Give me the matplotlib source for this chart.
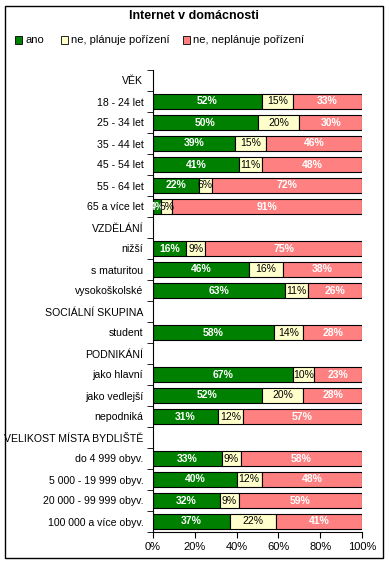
import matplotlib.pyplot as plt
from matplotlib.patches import Rectangle

categories = ["VĚK", "18 - 24 let", "25 - 34 let", "35 - 44 let", "45 - 54 let",
              "55 - 64 let", "65 a více let", "VZDĚLÁNÍ", "nižší", "s maturitou",
              "vysokoškolské", "SOCIÁLNÍ SKUPINA", "student", "PODNIKÁNÍ",
              "jako hlavní", "jako vedlejší", "nepodniká", "VELIKOST MÍSTA BYDLIŠTĚ",
              "do 4 999 obyv.", "5 000 - 19 999 obyv.", "20 000 - 99 999 obyv.",
              "100 000 a více obyv."]
# None = section header row (no bar)
ano = [None, 52, 50, 39, 41, 22, 4, None, 16, 46, 63, None, 58, None, 67, 52, 31, None, 33, 40, 32, 37]
planuje = [None, 15, 20, 15, 11, 6, 5, None, 9, 16, 11, None, 14, None, 10, 20, 12, None, 9, 12, 9, 22]
neplanuje = [None, 33, 30, 46, 48, 72, 91, None, 75, 38, 26, None, 28, None, 23, 28, 57, None, 58, 48, 59, 41]

series_names = ["ano", "ne, plánuje pořízení", "ne, neplánuje pořízení"]
colors = ["#008000", "#FFFFCC", "#FF8080"]
text_colors = ["white", "black", "white"]
weights = ["bold", "normal", "bold"]

plt.rcParams['font.family'] = ['Liberation Sans', 'DejaVu Sans']

fig = plt.figure(figsize=(3.89, 5.64), dpi=100)
ax = fig.add_axes([153 / 389, 32 / 564, 209 / 389, 462 / 564])

n = len(categories)
ys = list(range(n))
for i, y in enumerate(ys):
    if ano[i] is None:
        continue
    left = 0
    for k, vals in enumerate([ano, planuje, neplanuje]):
        v = vals[i]
        ax.barh(y, v, left=left, height=0.7, color=colors[k], edgecolor="black", linewidth=0.8)
        ax.text(left + v / 2, y, f"{v}%", ha="center", va="center", fontsize=7.5,
                color=text_colors[k], fontweight=weights[k])
        left += v

ax.set_xlim(0, 100)
ax.set_ylim(n - 0.5, -0.5)
ax.set_xticks([0, 20, 40, 60, 80, 100])
ax.set_xticklabels(["0%", "20%", "40%", "60%", "80%", "100%"], fontsize=8)
ax.set_yticks(ys)
ax.set_yticklabels(categories, fontsize=7.6)
ax.set_yticks([y - 0.5 for y in range(n + 1)], minor=True)
ax.tick_params(axis="y", which="major", length=0, pad=7)
ax.tick_params(axis="y", which="minor", length=4, direction="out")
ax.tick_params(axis="x", length=4, direction="out")
ax.spines["top"].set_visible(False)
ax.spines["right"].set_visible(False)
for s in ["left", "bottom"]:
    ax.spines[s].set_linewidth(0.8)

fig.text(194 / 389, 1 - 16 / 564, "Internet v domácnosti", ha="center", va="center",
         fontsize=9, fontweight="bold")

# legend
leg_y = 1 - 40 / 564
leg_x = [15, 61, 183]
for k in range(3):
    fig.patches.append(Rectangle((leg_x[k] / 389, leg_y - 3.5 / 564), 7 / 389, 7 / 564,
                                 transform=fig.transFigure, facecolor=colors[k],
                                 edgecolor="black", linewidth=0.6))
    fig.text((leg_x[k] + 10) / 389, leg_y, series_names[k], ha="left", va="center", fontsize=8)

# outer frame
fig.patches.append(Rectangle((5 / 389, 6 / 564), 378 / 389, 552 / 564, transform=fig.transFigure,
                             facecolor="none", edgecolor="black", linewidth=1))

plt.savefig("out.png", dpi=100)
